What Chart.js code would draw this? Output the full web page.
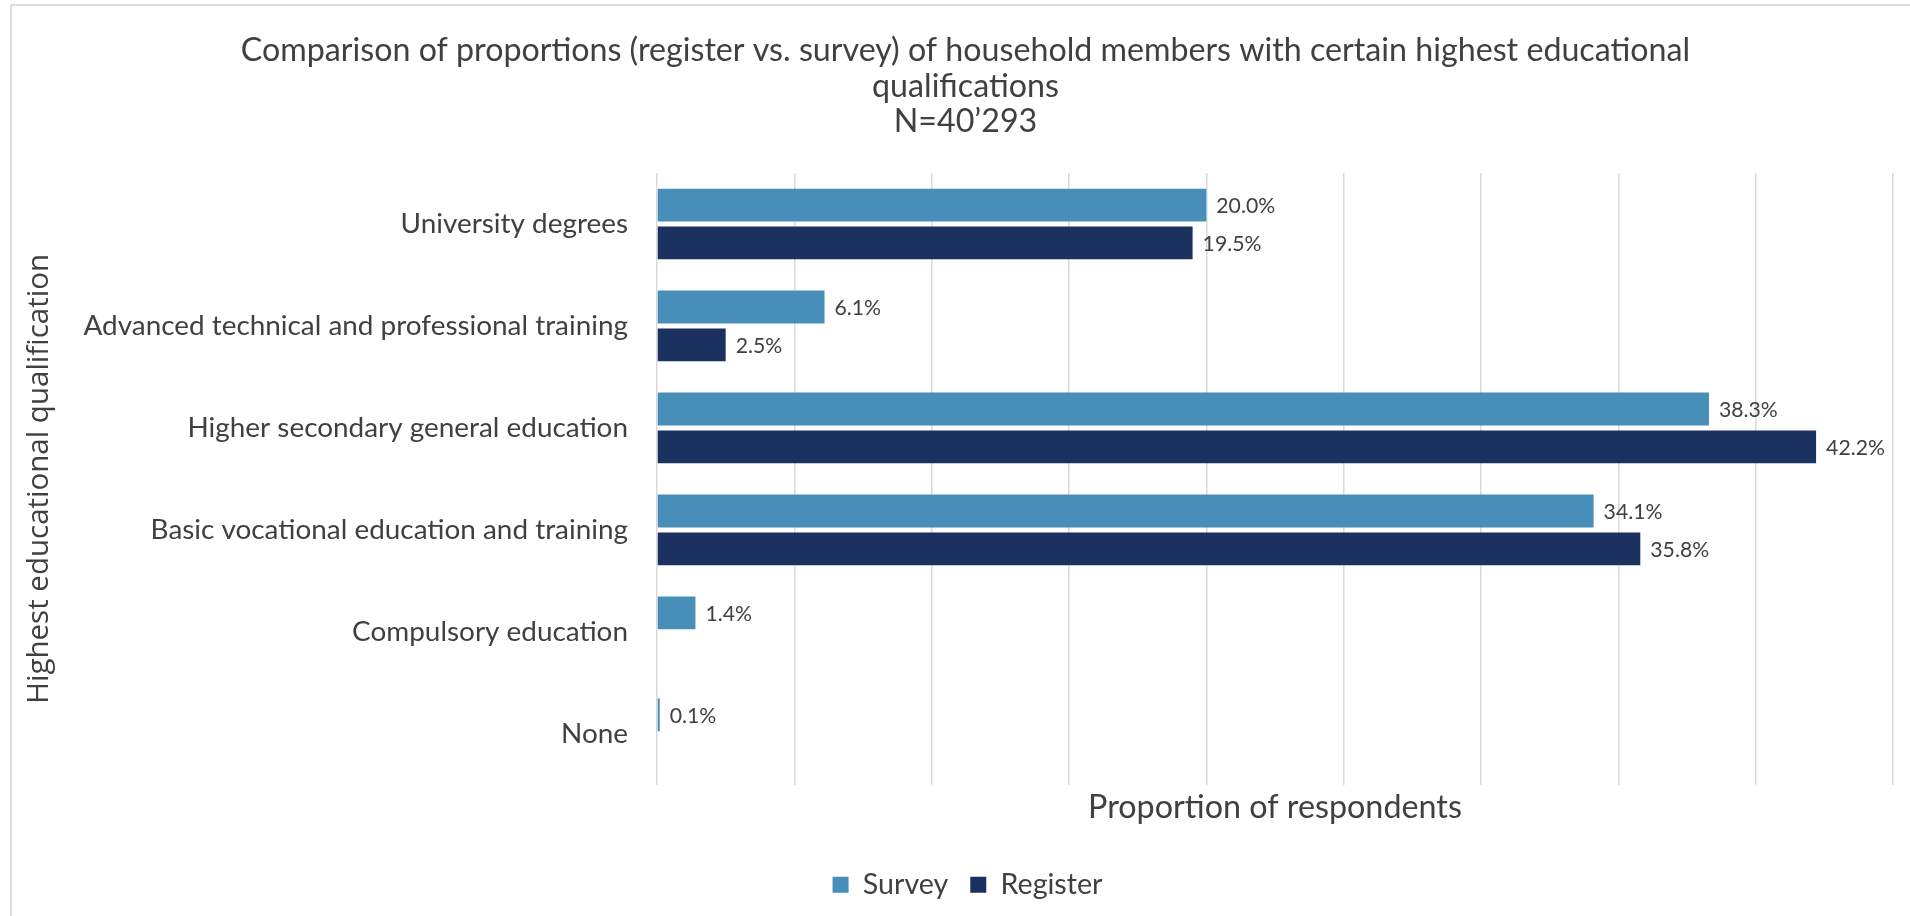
<!DOCTYPE html>
<html>
<head>
<meta charset="utf-8">
<script src="https://cdn.jsdelivr.net/npm/chart.js@4.4.1/dist/chart.umd.min.js"></script>
<style>
html,body{margin:0;padding:0;background:#fff;overflow:hidden;}
#wrap{position:relative;width:1910px;height:916px;}
#frame{position:absolute;left:10px;top:4px;width:2000px;height:1000px;border-top:2px solid #dcdcdc;border-left:2px solid #dcdcdc;}
canvas{position:absolute;left:0;top:0;}
</style>
</head>
<body>
<div id="wrap">
<div id="frame"></div>
<canvas id="chart" width="1910" height="916"></canvas>
</div>
<script>
const categories=["University degrees","Advanced technical and professional training","Higher secondary general education","Basic vocational education and training","Compulsory education","None"];
const surveyValues=[20.0,6.1,38.3,34.1,1.4,0.1];
const registerValues=[19.5,2.5,42.2,35.8,null,null];
const seriesNames=["Survey","Register"];
const titleLines=["Comparison of proportions (register vs. survey) of household members with certain highest educational","qualifications","N=40\u2019293"];
const xTitle="Proportion of respondents";
const yTitle="Highest educational qualification";

const textColor="#404040";
const mainFont="Lato";

// pick a font size so a text gets the width it has in the original
function fitSize(text,family,target){
const c=document.createElement("canvas").getContext("2d");
c.font="100px "+family;
return Math.round(1000*target/c.measureText(text).width)/10;
}

const titleSize=fitSize(titleLines[0],mainFont,1450);
const tickSize=fitSize(categories[1],mainFont,544);
const xTitleSize=fitSize(xTitle,mainFont,374);
const yTitleSize=fitSize(yTitle,"Open Sans",450);
const legendSize=fitSize(seriesNames[1],mainFont,102);
const labelSize=fitSize("42.2%",mainFont,59);
const xLh=xTitleSize*1.2;

const barLabels={
id:"barLabels",
afterLayout(chart){
// excel centres title and legend a bit right of the canvas middle
chart.legend.left+=16;chart.legend.right+=16;
chart.titleBlock.left+=14;chart.titleBlock.right+=14;
},
afterDatasetsDraw(chart){
const ctx=chart.ctx;
ctx.save();
ctx.font=labelSize+"px "+mainFont;
ctx.fillStyle=textColor;
ctx.textAlign="left";
ctx.textBaseline="middle";
chart.data.datasets.forEach((ds,i)=>{
const meta=chart.getDatasetMeta(i);
meta.data.forEach((bar,j)=>{
const v=ds.data[j];
if(v==null)return;
ctx.fillText(v.toFixed(1)+"%",bar.x+10,bar.y+1);
});
});
ctx.restore();
}
};

new Chart(document.getElementById("chart"),{
type:"bar",
data:{
labels:categories,
datasets:[
{label:seriesNames[0],data:surveyValues,backgroundColor:"#478fb9",categoryPercentage:0.742,barPercentage:0.868},
{label:seriesNames[1],data:registerValues,backgroundColor:"#1b3160",categoryPercentage:0.742,barPercentage:0.868}
]
},
options:{
indexAxis:"y",
responsive:false,
animation:false,
layout:{padding:{left:10,right:17,top:10,bottom:7}},
plugins:{
title:{display:true,text:titleLines,color:textColor,font:{family:mainFont,size:titleSize,weight:"normal",lineHeight:35.5/titleSize},padding:{top:23,bottom:33.5}},
legend:{position:"bottom",labels:{color:textColor,font:{family:mainFont,size:legendSize},boxWidth:16,boxHeight:16,padding:22}},
tooltip:{enabled:false}
},
scales:{
x:{
min:0,max:45,
ticks:{display:false,stepSize:5},
grid:{color:"#d9d9d9",lineWidth:1.5,drawTicks:false},
border:{display:false},
title:{display:true,text:xTitle,color:textColor,font:{family:mainFont,size:xTitleSize,lineHeight:1.2},padding:{top:23-xLh/2,bottom:40.6-xLh/2}}
},
y:{
ticks:{color:textColor,font:{family:mainFont,size:tickSize},padding:29},
grid:{display:false,drawTicks:false},
border:{display:false},
title:{display:true,text:yTitle,color:textColor,font:{family:"Open Sans",size:yTitleSize,lineHeight:1.2},padding:{top:12,bottom:0}},
afterFit(scale){scale.width=647;}
}
}
},
plugins:[barLabels]
});
</script>
</body>
</html>
